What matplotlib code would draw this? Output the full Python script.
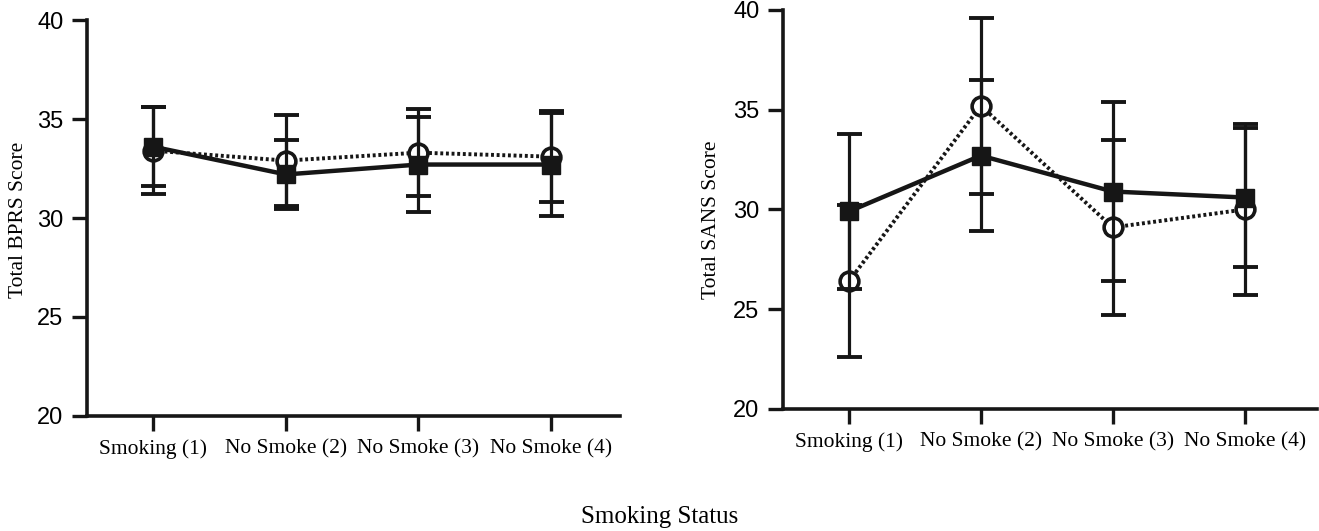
import matplotlib
matplotlib.use("Agg")
import matplotlib.pyplot as plt
import numpy as np

categories = ["Smoking (1)", "No Smoke (2)", "No Smoke (3)", "No Smoke (4)"]

# BPRS panel
bprs_square = [33.6, 32.2, 32.7, 32.7]
bprs_square_err = [2.0, 1.75, 2.4, 2.6]
bprs_circle = [33.4, 32.9, 33.3, 33.1]
bprs_circle_err = [2.2, 2.3, 2.2, 2.3]

# SANS panel
sans_square = [29.9, 32.7, 30.9, 30.6]
sans_square_err = [3.9, 3.8, 4.5, 3.5]
sans_circle = [26.4, 35.2, 29.1, 30.0]
sans_circle_err = [3.8, 4.4, 4.4, 4.3]

yticks = [20, 25, 30, 35, 40]

SERIF = "Liberation Serif"
SANS = "Liberation Sans"
INK = "#161616"

fig = plt.figure(figsize=(13.19, 5.31), dpi=100)
ax1 = fig.add_axes([0.066, 0.2166, 0.404, 0.7457])
ax2 = fig.add_axes([0.5936, 0.2298, 0.405, 0.7514])


def draw(ax, sq, sqe, ci, cie, ylabel, xr, lab_xy):
    x = np.arange(len(categories))
    # circles (dotted)
    ax.errorbar(x, ci, yerr=cie, fmt="none", ecolor=INK, elinewidth=2.3,
                capsize=9, capthick=2.8, zorder=2)
    ax.plot(x, ci, color=INK, lw=2.8, linestyle=(0, (0.75, 0.7)), zorder=3)
    ax.plot(x, ci, "o", ms=13.5, mfc="white", mec=INK, mew=2.6, zorder=4, ls="none")
    # squares (solid)
    ax.errorbar(x, sq, yerr=sqe, fmt="none", ecolor=INK, elinewidth=2.3,
                capsize=9, capthick=2.8, zorder=5)
    ax.plot(x, sq, color=INK, lw=3.2, zorder=6)
    ax.plot(x, sq, "s", ms=13.5, mfc=INK, mec=INK, zorder=7, ls="none")

    ax.set_xlim(-0.5, xr)
    ax.set_ylim(20, 40)
    ax.set_yticks(yticks)
    ax.set_yticklabels([str(t) for t in yticks], fontfamily=SANS, fontsize=17)
    ax.set_xticks(x)
    ax.set_xticklabels(categories, fontfamily=SERIF, fontsize=15.5)
    ax.spines["top"].set_visible(False)
    ax.spines["right"].set_visible(False)
    for s in ("left", "bottom"):
        ax.spines[s].set_linewidth(2.6)
        ax.spines[s].set_color(INK)
    ax.tick_params(axis="both", direction="out", length=11, width=2.4, color=INK)
    ax.tick_params(axis="y", pad=6)
    ax.tick_params(axis="x", pad=6)
    ax.set_ylabel(ylabel, fontfamily=SERIF, fontsize=15.5, va="center")
    ax.yaxis.set_label_coords(*lab_xy)


draw(ax1, bprs_square, bprs_square_err, bprs_circle, bprs_circle_err,
     "Total BPRS Score", 3.52, (-0.128, 0.495))
draw(ax2, sans_square, sans_square_err, sans_circle, sans_circle_err,
     "Total SANS Score", 3.55, (-0.133, 0.475))

fig.text(0.5, 0.026, "Smoking Status", ha="center", va="center", fontfamily=SERIF, fontsize=18)

fig.savefig("out.png", dpi=100, facecolor="white")
